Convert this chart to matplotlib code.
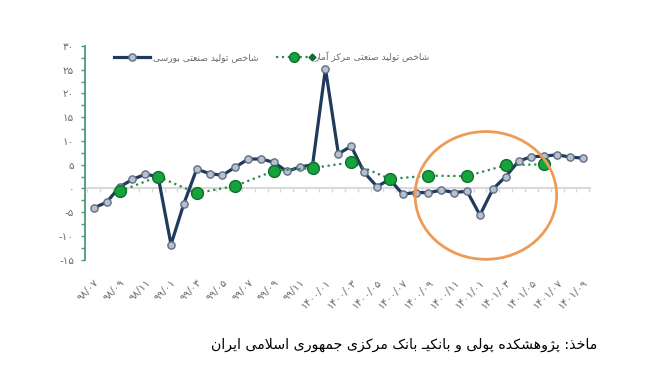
import numpy as np
import matplotlib
matplotlib.use("Agg")
import matplotlib.pyplot as plt
from matplotlib.patches import Ellipse
from matplotlib.lines import Line2D
from matplotlib.legend_handler import HandlerBase

# ---- data ----
months = ["98/07", "98/08", "98/09", "98/10", "98/11", "98/12",
          "99/01", "99/02", "99/03", "99/04", "99/05", "99/06",
          "99/07", "99/08", "99/09", "99/10", "99/11", "99/12",
          "1400/01", "1400/02", "1400/03", "1400/04", "1400/05", "1400/06",
          "1400/07", "1400/08", "1400/09", "1400/10", "1400/11", "1400/12",
          "1401/01", "1401/02", "1401/03", "1401/04", "1401/05", "1401/06",
          "1401/07", "1401/08", "1401/09"]
bourse = [-4.1, -2.9, 0.3, 1.9, 3.0, 2.5,
          -11.8, -3.2, 4.1, 3.1, 2.8, 4.5,
          6.2, 6.2, 5.5, 3.6, 4.5, 5.0,
          25.2, 7.3, 8.9, 3.4, 0.4, 1.9,
          -1.2, -0.85, -0.9, -0.35, -0.85, -0.6,
          -5.6, -0.15, 2.5, 5.75, 6.7, 6.8,
          7.1, 6.6, 6.4]
amar_idx = [2, 5, 8, 11, 14, 17, 20, 23, 26, 29, 32, 35]
amar = [-0.6, 2.5, -1.0, 0.55, 3.7, 4.3, 5.5, 2.0, 2.7, 2.6, 4.9, 5.1]

label_bourse = "شاخص تولید صنعتی بورسی"
label_amar = "شاخص تولید صنعتی مرکز آمار"
caption = "ماخذ: پژوهشکده پولی و بانکیـ بانک مرکزی جمهوری اسلامی ایران"

# ---- minimal Persian shaping (matplotlib has no RTL / joining support) ----
FORMS = {
    'ا': ('\uFE8D', '\uFE8E', None, None), 'آ': ('\uFE81', '\uFE82', None, None),
    'ب': ('\uFE8F', '\uFE90', '\uFE91', '\uFE92'), 'پ': ('\uFB56', '\uFB57', '\uFB58', '\uFB59'),
    'ت': ('\uFE95', '\uFE96', '\uFE97', '\uFE98'), 'ث': ('\uFE99', '\uFE9A', '\uFE9B', '\uFE9C'),
    'ج': ('\uFE9D', '\uFE9E', '\uFE9F', '\uFEA0'), 'چ': ('\uFB7A', '\uFB7B', '\uFB7C', '\uFB7D'),
    'ح': ('\uFEA1', '\uFEA2', '\uFEA3', '\uFEA4'), 'خ': ('\uFEA5', '\uFEA6', '\uFEA7', '\uFEA8'),
    'د': ('\uFEA9', '\uFEAA', None, None), 'ذ': ('\uFEAB', '\uFEAC', None, None),
    'ر': ('\uFEAD', '\uFEAE', None, None), 'ز': ('\uFEAF', '\uFEB0', None, None),
    'ژ': ('\uFB8A', '\uFB8B', None, None),
    'س': ('\uFEB1', '\uFEB2', '\uFEB3', '\uFEB4'), 'ش': ('\uFEB5', '\uFEB6', '\uFEB7', '\uFEB8'),
    'ص': ('\uFEB9', '\uFEBA', '\uFEBB', '\uFEBC'), 'ض': ('\uFEBD', '\uFEBE', '\uFEBF', '\uFEC0'),
    'ط': ('\uFEC1', '\uFEC2', '\uFEC3', '\uFEC4'), 'ظ': ('\uFEC5', '\uFEC6', '\uFEC7', '\uFEC8'),
    'ع': ('\uFEC9', '\uFECA', '\uFECB', '\uFECC'), 'غ': ('\uFECD', '\uFECE', '\uFECF', '\uFED0'),
    'ف': ('\uFED1', '\uFED2', '\uFED3', '\uFED4'), 'ق': ('\uFED5', '\uFED6', '\uFED7', '\uFED8'),
    'ک': ('\uFB8E', '\uFB8F', '\uFB90', '\uFB91'), 'گ': ('\uFB92', '\uFB93', '\uFB94', '\uFB95'),
    'ل': ('\uFEDD', '\uFEDE', '\uFEDF', '\uFEE0'), 'م': ('\uFEE1', '\uFEE2', '\uFEE3', '\uFEE4'),
    'ن': ('\uFEE5', '\uFEE6', '\uFEE7', '\uFEE8'), 'و': ('\uFEED', '\uFEEE', None, None),
    'ه': ('\uFEE9', '\uFEEA', '\uFEEB', '\uFEEC'), 'ی': ('\uFBFC', '\uFBFD', '\uFBFE', '\uFBFF'),
    'ـ': ('ـ', 'ـ', 'ـ', 'ـ'),
}
LAM_ALEF = {'ا': ('\uFEFB', '\uFEFC'), 'آ': ('\uFEF5', '\uFEF6')}


def joins_left(ch):
    return ch in FORMS and FORMS[ch][2] is not None


def fa(s):
    res = []
    n = len(s)
    i = 0
    while i < n:
        c = s[i]
        prev = s[i - 1] if i > 0 else None
        if c == 'ل' and i + 1 < n and s[i + 1] in LAM_ALEF:
            res.append(LAM_ALEF[s[i + 1]][1 if joins_left(prev) else 0])
            i += 2
            continue
        if c in FORMS:
            iso, fin, ini, med = FORMS[c]
            jp = joins_left(prev)
            jn = ini is not None and i + 1 < n and s[i + 1] in FORMS
            g = med if (jp and jn) else fin if jp else ini if jn else iso
        else:
            g = c
        res.append(g)
        i += 1
    return ''.join(reversed(res))


def fa_digits(s):
    return s.translate(str.maketrans("0123456789", "۰۱۲۳۴۵۶۷۸۹"))


navy = "#203a5c"
marker_fill = "#b8c0cf"
marker_edge = "#5f6f86"
green_line = "#2a8a4a"
green_fill = "#17a33c"
green_edge = "#0e6e2c"
spine_green = "#4a9c78"
orange = "#ee9c55"
grey_txt = "#6a6a6a"


class DotDiamondHandler(HandlerBase):
    """dotted line + big dot + small diamond, like the Excel legend key"""
    def create_artists(self, legend, orig_handle, xdescent, ydescent,
                       width, height, fontsize, trans):
        y = height / 2 - ydescent
        x0, x1 = -xdescent, width - xdescent
        line = Line2D([x0, x1], [y, y], ls=':', lw=1.6, color=green_line)
        dot = Line2D([(x0 + x1) / 2], [y], marker='o', ms=7, mfc=green_fill,
                     mec=green_edge, ls='none')
        dia = Line2D([x1], [y], marker='D', ms=3.5, color=green_edge, ls='none')
        for a in (line, dot, dia):
            a.set_transform(trans)
        return [line, dot, dia]


x = np.arange(len(months))

fig = plt.figure(figsize=(6.51, 3.68), dpi=100)
ax = fig.add_axes([0.1306, 0.2943, 0.9063 - 0.1306, 0.875 - 0.2943])

ax.plot(x, bourse, color=navy, lw=2.3, marker='o', ms=5.2, mfc=marker_fill,
        mec=marker_edge, mew=1, zorder=3)
ax.plot(amar_idx, amar, color=green_line, lw=1.6, ls=':', marker='o', ms=8.5,
        mfc=green_fill, mec=green_edge, mew=1, zorder=4)

ax.add_patch(Ellipse((30.46, -1.47), 11.0, 26.9, fill=False, ec=orange,
                     lw=2, clip_on=False, zorder=6))

ax.set_xlim(-0.68, 38.55)
ax.set_ylim(-15, 30)

for side in ("top", "right"):
    ax.spines[side].set_visible(False)
ax.spines["left"].set_color(spine_green)
ax.spines["left"].set_linewidth(1.3)
ax.spines["bottom"].set_position(("data", 0))
ax.spines["bottom"].set_color("#d9d9d9")
ax.spines["bottom"].set_linewidth(1.5)
ax.spines["bottom"].set_zorder(1)

yt = np.arange(-15, 31, 5)
ax.set_yticks(yt)
ax.set_yticklabels([fa_digits(str(v)) for v in yt])
ax.set_yticks(np.arange(-15, 30.1, 2.5), minor=True)
ax.tick_params(axis="y", which="both", direction="out", length=3, width=1,
               color=spine_green, labelsize=7.5, labelcolor=grey_txt, pad=5)

ax.set_xticks(x[::2])
ax.set_xticklabels([fa_digits(m) for m in months[::2]], rotation=45,
                   ha="right", va="top", rotation_mode="anchor")
ax.set_xticks(np.arange(-0.5, 38.6, 1), minor=True)
ax.tick_params(axis="x", which="major", length=0, labelsize=7.5,
               labelcolor=grey_txt, pad=64)
ax.tick_params(axis="x", which="minor", length=3, width=1, color="#d9d9d9")

h_bourse = Line2D([], [], color=navy, lw=2.3, marker='o', ms=5.2,
                  mfc=marker_fill, mec=marker_edge)
h_amar = Line2D([], [], color=green_line)
ax.legend(handles=[h_bourse, h_amar],
          labels=[fa(label_bourse), fa(label_amar)],
          handler_map={h_amar: DotDiamondHandler()},
          loc="center", bbox_to_anchor=(0.418, 0.845),
          bbox_transform=fig.transFigure, frameon=False, ncol=2,
          fontsize=6.6, labelcolor=grey_txt, handlelength=3.9,
          handletextpad=0.3, columnspacing=2.0)

fig.text(0.918, 0.0625, fa(caption), ha="right", va="center", fontsize=10.2,
         color="black")

fig.savefig("out.png", dpi=100)
